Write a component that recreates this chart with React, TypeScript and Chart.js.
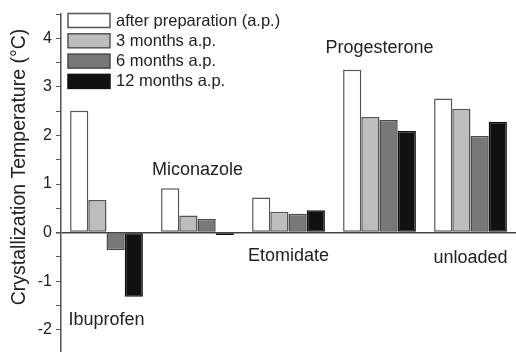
import React, { useEffect, useRef } from 'react';
import { Chart, registerables } from 'chart.js';

Chart.register(...registerables);

const categories = ['Ibuprofen', 'Miconazole', 'Etomidate', 'Progesterone', 'unloaded'];
const seriesNames = ['after preparation (a.p.)', '3 months a.p.', '6 months a.p.', '12 months a.p.'];
const afterPrep = [2.51, 0.91, 0.72, 3.35, 2.76];
const months3 = [0.67, 0.35, 0.43, 2.38, 2.55];
const months6 = [-0.36, 0.28, 0.39, 2.32, 1.99];
const months12 = [-1.32, -0.05, 0.46, 2.09, 2.28];
const labelValues = [-1.9, 1.19, -0.59, 3.7, -0.63];
const yMin = -2.5;
const yMax = 4.5;
const yStep = 0.5;
const yTitle = 'Crystallization Temperature (°C)';

const fills = ['#ffffff', '#bdbdbd', '#787878', '#111111'];
const borders = ['#555555', '#555555', '#4a4a4a', '#111111'];
const FONT = '"Liberation Sans", Arial, sans-serif';

const overlayPlugin = {
  id: 'overlay',
  afterDraw(chart: any) {
    const ctx = chart.ctx as CanvasRenderingContext2D;
    const xs = chart.scales.x;
    const ys = chart.scales.y;
    ctx.save();
    // category annotations
    ctx.fillStyle = '#222';
    ctx.font = `18px ${FONT}`;
    ctx.textAlign = 'center';
    ctx.textBaseline = 'alphabetic';
    categories.forEach((c, i) => {
      ctx.fillText(c, xs.getPixelForValue(i), ys.getPixelForValue(labelValues[i]));
    });
    // y title
    ctx.save();
    ctx.translate(20, 167);
    ctx.rotate(-Math.PI / 2);
    ctx.font = `19.5px ${FONT}`;
    ctx.textAlign = 'center';
    ctx.textBaseline = 'middle';
    ctx.fillText(yTitle, 0, 0);
    ctx.restore();
    // legend
    const left = chart.chartArea.left + 7;
    chart.data.datasets.forEach((ds: any, i: number) => {
      const top = 13.5 + i * 20.3;
      ctx.fillStyle = ds.backgroundColor;
      ctx.fillRect(left, top, 42, 14);
      ctx.strokeStyle = ds.borderColor;
      ctx.lineWidth = 1.5;
      ctx.strokeRect(left, top, 42, 14);
      ctx.fillStyle = '#222';
      ctx.font = `16.5px ${FONT}`;
      ctx.textAlign = 'left';
      ctx.textBaseline = 'middle';
      ctx.fillText(ds.label, left + 48, top + 7.5);
    });
    ctx.restore();
  },
};

export default function App() {
  const ref = useRef<HTMLCanvasElement>(null);
  useEffect(() => {
    if (!ref.current) return;
    const seriesValues = [afterPrep, months3, months6, months12];
    const chart = new Chart(ref.current, {
      type: 'bar',
      data: {
        labels: categories,
        datasets: seriesValues.map((vals, i) => ({
          label: seriesNames[i],
          data: vals,
          backgroundColor: fills[i],
          borderColor: borders[i],
          borderWidth: 1.5,
          borderSkipped: false,
          categoryPercentage: 0.8,
          barPercentage: 1.0,
        })),
      },
      options: {
        animation: false,
        responsive: false,
        layout: { padding: { top: 14, left: 0, right: 0, bottom: 16 } },
        plugins: { legend: { display: false }, tooltip: { enabled: false } },
        scales: {
          x: { display: false },
          y: {
            min: yMin,
            max: yMax,
            afterFit: (s: any) => {
              s.width = 61;
            },
            ticks: {
              stepSize: yStep,
              autoSkip: false,
              padding: 4,
              color: '#222',
              font: { family: FONT, size: 16 },
              callback: (v: any) => (Number.isInteger(Number(v)) ? String(v) : ''),
            },
            grid: {
              drawOnChartArea: true,
              color: (c: any) => (c.tick && c.tick.value === 0 ? '#444' : 'rgba(0,0,0,0)'),
              lineWidth: (c: any) => (c.tick && c.tick.value === 0 ? 1.6 : 1),
              tickColor: '#555',
              tickLength: 5,
            },
            border: { display: true, color: '#555', width: 1.5 },
          },
        },
      },
      plugins: [overlayPlugin],
    });
    return () => chart.destroy();
  }, []);
  return (
    <div style={{ position: 'absolute', left: 0, top: 0, width: 516, height: 352, overflow: 'hidden', background: '#fff' }}>
      <canvas ref={ref} width={516} height={370} style={{ display: 'block' }} />
    </div>
  );
}
